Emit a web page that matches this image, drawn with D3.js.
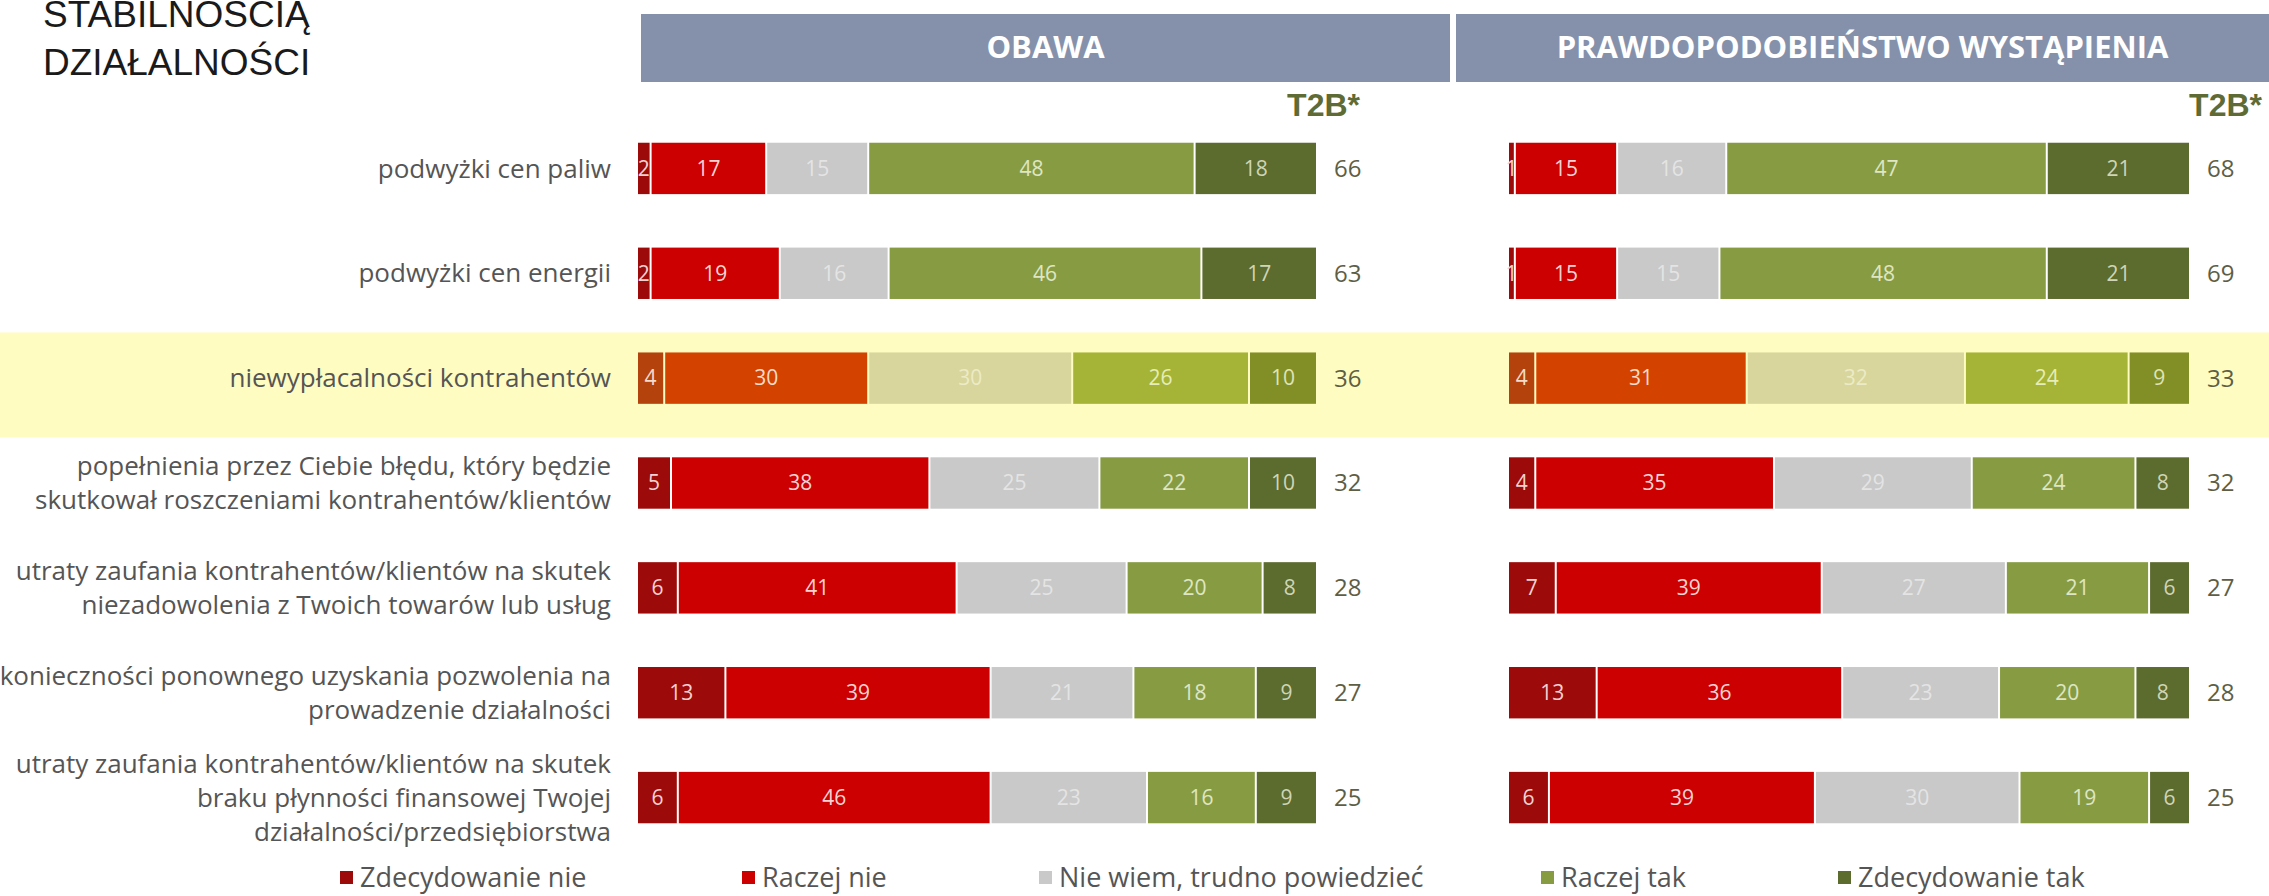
<!DOCTYPE html>
<html>
<head>
<meta charset="utf-8">
<script src="https://cdn.jsdelivr.net/npm/d3@7"></script>
<style>
  html, body { margin: 0; padding: 0; background: #fff; }
  svg { display: block; }
</style>
</head>
<body>
<script>
// data //{{{
var categories = [
	["podwyżki cen paliw"],
	["podwyżki cen energii"],
	["niewypłacalności kontrahentów"],
	["popełnienia przez Ciebie błędu, który będzie", "skutkował roszczeniami kontrahentów/klientów"],
	["utraty zaufania kontrahentów/klientów na skutek", "niezadowolenia z Twoich towarów lub usług"],
	["konieczności ponownego uzyskania pozwolenia na", "prowadzenie działalności"],
	["utraty zaufania kontrahentów/klientów na skutek", "braku płynności finansowej Twojej", "działalności/przedsiębiorstwa"]
];
var answers = ["Zdecydowanie nie", "Raczej nie", "Nie wiem, trudno powiedzieć", "Raczej tak", "Zdecydowanie tak"];
var obawa = [
	[2, 17, 15, 48, 18],
	[2, 19, 16, 46, 17],
	[4, 30, 30, 26, 10],
	[5, 38, 25, 22, 10],
	[6, 41, 25, 20, 8],
	[13, 39, 21, 18, 9],
	[6, 46, 23, 16, 9]
];
var obawaT2B = [66, 63, 36, 32, 28, 27, 25];
var prawd = [
	[1, 15, 16, 47, 21],
	[1, 15, 15, 48, 21],
	[4, 31, 32, 24, 9],
	[4, 35, 29, 24, 8],
	[7, 39, 27, 21, 6],
	[13, 36, 23, 20, 8],
	[6, 39, 30, 19, 6]
];
var prawdT2B = [68, 69, 33, 32, 27, 28, 25];
var headers = ["OBAWA", "PRAWDOPODOBIEŃSTWO WYSTĄPIENIA"];
var titleLines = ["STABILNOŚCIĄ", "DZIAŁALNOŚCI"];
var highlightRow = 2;
//}}}

// colours //{{{
var fills  = ["#9c0a0a", "#cc0000", "#c9c9c9", "#879c42", "#5c6b2e"];
var fillsH = ["#b4420c", "#d44200", "#d8d69c", "#a5b336", "#828f27"];
var txt    = ["#f4d2d2", "#f6d4d4", "#e4e4e4", "#dfe6c4", "#cfd5b6"];
var txtH   = ["#f4dccc", "#f6dccc", "#ecebc6", "#e6edb8", "#dfe3b8"];
//}}}

var W = 2269, H = 896;
var svg = d3.select("body").append("svg").attr("width", W).attr("height", H);
var font = "'Open Sans', sans-serif";

var y = d3.scaleBand().domain(d3.range(categories.length)).range([116, 850]).paddingInner(0.51).paddingOuter(0.255);
var panels = [
	{ data: obawa, t2b: obawaT2B, x: d3.scaleLinear().domain([0, 100]).range([638, 1318]), hx: [641, 1450], t2bx: 1360 },
	{ data: prawd, t2b: prawdT2B, x: d3.scaleLinear().domain([0, 100]).range([1509, 2191]), hx: [1456, 2269], t2bx: 2262 }
];

// highlight band
svg.append("rect")
	.attr("x", 0).attr("width", W)
	.attr("y", y(highlightRow) - 20).attr("height", 105)
	.attr("fill", "#fffcc2");

// title
svg.append("g").selectAll("text").data(titleLines).join("text")
	.attr("x", 43).attr("y", function(d, i) { return 27 + i * 48; })
	.attr("font-family", "'Liberation Sans', Arial, sans-serif")
	.attr("font-size", 37).attr("fill", "#1a1a1a")
	.text(function(d) { return d; });

// headers
panels.forEach(function(p, k) {
	svg.append("rect")
		.attr("x", p.hx[0]).attr("y", 14)
		.attr("width", p.hx[1] - p.hx[0]).attr("height", 68)
		.attr("fill", "#8591ab");
	svg.append("text")
		.attr("x", (p.hx[0] + p.hx[1]) / 2).attr("y", 47)
		.attr("dy", "0.35em").attr("text-anchor", "middle")
		.attr("font-family", font).attr("font-weight", 700).attr("font-size", 31)
		.attr("fill", "#ffffff")
		.text(headers[k]);
	svg.append("text")
		.attr("x", p.t2bx).attr("y", 116)
		.attr("text-anchor", "end")
		.attr("font-family", "'Liberation Sans', Arial, sans-serif").attr("font-weight", 700).attr("font-size", 32)
		.attr("fill", "#5f6b35")
		.text("T2B*");
});

// category labels
var lab = svg.append("g").selectAll("text").data(categories).join("text")
	.attr("text-anchor", "end")
	.attr("font-family", font).attr("font-size", 26).attr("fill", "#555555")
	.attr("transform", function(d, i) { return "translate(611," + (y(i) + y.bandwidth() / 2) + ")"; });
lab.selectAll("tspan").data(function(d) { return d; }).join("tspan")
	.attr("x", 0)
	.attr("y", function(d, i, n) { return (i - (n.length - 1) / 2) * 34; })
	.attr("dy", "0.35em")
	.text(function(d) { return d; });

// bars
panels.forEach(function(p) {
	var rows = svg.append("g").selectAll("g").data(p.data).join("g")
		.attr("transform", function(d, i) { return "translate(0," + y(i) + ")"; });
	var segs = rows.selectAll("g").data(function(d, i) {
		var acc = 0;
		return d.map(function(v, j) { var s = { v: v, j: j, x0: acc, row: i }; acc += v; return s; });
	}).join("g");
	segs.append("rect")
		.attr("x", function(d) { return p.x(d.x0); })
		.attr("width", function(d) { return Math.max(1, p.x(d.x0 + d.v) - p.x(d.x0) - 2); })
		.attr("height", y.bandwidth())
		.attr("fill", function(d) { return (d.row == highlightRow ? fillsH : fills)[d.j]; });
	segs.append("text")
		.attr("x", function(d) { return p.x(d.x0 + d.v / 2) - 1; })
		.attr("y", y.bandwidth() / 2).attr("dy", "0.35em")
		.attr("text-anchor", "middle")
		.attr("font-family", font).attr("font-size", 21)
		.attr("fill", function(d) { return (d.row == highlightRow ? txtH : txt)[d.j]; })
		.text(function(d) { return d.v; });
	rows.append("text")
		.attr("x", p.x(100) + 16).attr("y", y.bandwidth() / 2).attr("dy", "0.35em")
		.attr("font-family", font).attr("font-size", 24).attr("fill", "#5e5e44")
		.text(function(d, i) { return p.t2b[i]; });
});

// legend
var legendX = [340, 742, 1039, 1541, 1838];
var leg = svg.append("g").selectAll("g").data(answers).join("g")
	.attr("transform", function(d, i) { return "translate(" + legendX[i] + ",878)"; });
leg.append("rect").attr("x", 0).attr("y", -7).attr("width", 13).attr("height", 13)
	.attr("fill", function(d, i) { return fills[i]; });
leg.append("text").attr("x", 20).attr("dy", "0.35em")
	.attr("font-family", font).attr("font-size", 27).attr("fill", "#555555")
	.text(function(d) { return d; });
</script>
</body>
</html>
